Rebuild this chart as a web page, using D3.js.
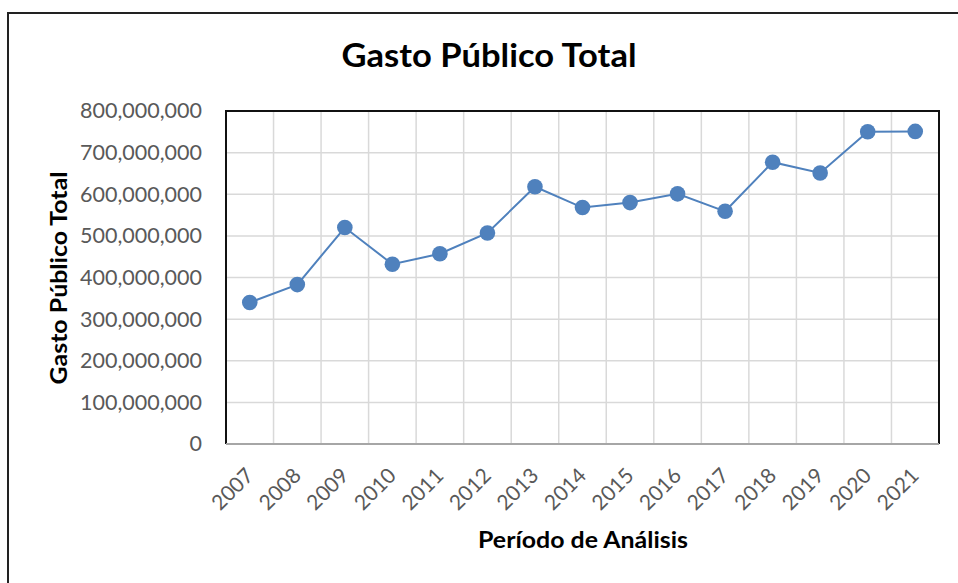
<!DOCTYPE html>
<html>
<head>
<meta charset="utf-8">
<script src="https://cdn.jsdelivr.net/npm/d3@7"></script>
<style>
  body { margin: 0; background: #fff; }
  svg { display: block; font-family: Lato, "Open Sans", sans-serif; }
</style>
</head>
<body>
<script>
// data
var years = ["2007", "2008", "2009", "2010", "2011", "2012", "2013", "2014",
             "2015", "2016", "2017", "2018", "2019", "2020", "2021"];
var gasto = [340e6, 383e6, 520e6, 432e6, 457e6, 507e6, 618e6, 568e6,
             580e6, 601e6, 559e6, 677e6, 651e6, 750e6, 751e6];
var yTicks = [0, 100e6, 200e6, 300e6, 400e6, 500e6, 600e6, 700e6, 800e6];

var W = 958, H = 583;
var plot = {left: 226, right: 939, top: 111, bottom: 444};

var svg = d3.select("body").append("svg")
  .attr("width", W)
  .attr("height", H);

// outer chart border (runs off the right and bottom edges)
svg.append("rect")
  .attr("x", 8).attr("y", 13)
  .attr("width", W + 20).attr("height", H + 20)
  .attr("fill", "#fff")
  .attr("stroke", "#222")
  .attr("stroke-width", 2);

var x = d3.scaleBand().domain(years).range([plot.left, plot.right]);
var y = d3.scaleLinear().domain([0, 800e6]).range([plot.bottom, plot.top]);

// gridlines
svg.append("g")
  .selectAll("line.h")
  .data(yTicks.slice(1, -1))
  .enter().append("line")
    .attr("x1", plot.left).attr("x2", plot.right)
    .attr("y1", function(d) { return y(d); })
    .attr("y2", function(d) { return y(d); })
    .attr("stroke", "#d9d9d9")
    .attr("stroke-width", 1.5);

svg.append("g")
  .selectAll("line.v")
  .data(years.slice(1))
  .enter().append("line")
    .attr("x1", function(d) { return x(d); })
    .attr("x2", function(d) { return x(d); })
    .attr("y1", plot.top).attr("y2", plot.bottom)
    .attr("stroke", "#d9d9d9")
    .attr("stroke-width", 1.5);

// plot frame: black top/left/right, gray bottom axis
svg.append("path")
  .attr("d", "M" + plot.left + "," + plot.bottom + "V" + plot.top + "H" + plot.right + "V" + plot.bottom)
  .attr("fill", "none")
  .attr("stroke", "#111")
  .attr("stroke-width", 2);

svg.append("line")
  .attr("x1", plot.left).attr("x2", plot.right)
  .attr("y1", plot.bottom).attr("y2", plot.bottom)
  .attr("stroke", "#a6a6a6")
  .attr("stroke-width", 2);

// y axis labels
var yAxis = d3.axisLeft(y)
  .tickValues(yTicks)
  .tickSize(0)
  .tickPadding(24)
  .tickFormat(function(d) { return d === 0 ? "0" : d3.format(",")(d); });

var gy = svg.append("g")
  .attr("transform", "translate(" + plot.left + ",0)")
  .call(yAxis)
  .attr("font-family", null);
gy.select(".domain").remove();
gy.selectAll("text")
  .attr("fill", "#595959")
  .style("font-size", "21.5px");

// x axis labels, rotated
var xAxis = d3.axisBottom(x).tickSize(0).tickPadding(0);
var gx = svg.append("g")
  .attr("transform", "translate(0," + plot.bottom + ")")
  .call(xAxis)
  .attr("font-family", null);
gx.select(".domain").remove();
gx.selectAll("text")
  .attr("fill", "#595959")
  .style("font-size", "21px")
  .style("text-anchor", "end")
  .attr("dy", null)
  .attr("y", 0)
  .attr("transform", "translate(5,33) rotate(-45)");

// series line + markers
var cx = function(d, i) { return x(years[i]) + x.bandwidth() / 2; };
var line = d3.line()
  .x(cx)
  .y(function(d) { return y(d); });

svg.append("path")
  .datum(gasto)
  .attr("d", line)
  .attr("fill", "none")
  .attr("stroke", "#4f81bd")
  .attr("stroke-width", 2);

svg.selectAll(".dot")
  .data(gasto)
  .enter().append("circle")
    .attr("class", "dot")
    .attr("r", 7.8)
    .attr("cx", cx)
    .attr("cy", function(d) { return y(d); })
    .attr("fill", "#4f81bd");

// titles (narrow Calibri-like look via textLength)
svg.append("text")
  .attr("x", 489).attr("y", 67)
  .attr("text-anchor", "middle")
  .attr("textLength", 295)
  .attr("lengthAdjust", "spacingAndGlyphs")
  .style("font-size", "32px")
  .style("font-weight", "bold")
  .text("Gasto Público Total");

svg.append("text")
  .attr("x", 583).attr("y", 548)
  .attr("text-anchor", "middle")
  .attr("textLength", 210)
  .attr("lengthAdjust", "spacingAndGlyphs")
  .style("font-size", "23px")
  .style("font-weight", "bold")
  .text("Período de Análisis");

svg.append("text")
  .attr("transform", "translate(67,278) rotate(-90)")
  .attr("text-anchor", "middle")
  .attr("textLength", 213)
  .attr("lengthAdjust", "spacingAndGlyphs")
  .style("font-size", "23px")
  .style("font-weight", "bold")
  .text("Gasto Público Total");
</script>
</body>
</html>
